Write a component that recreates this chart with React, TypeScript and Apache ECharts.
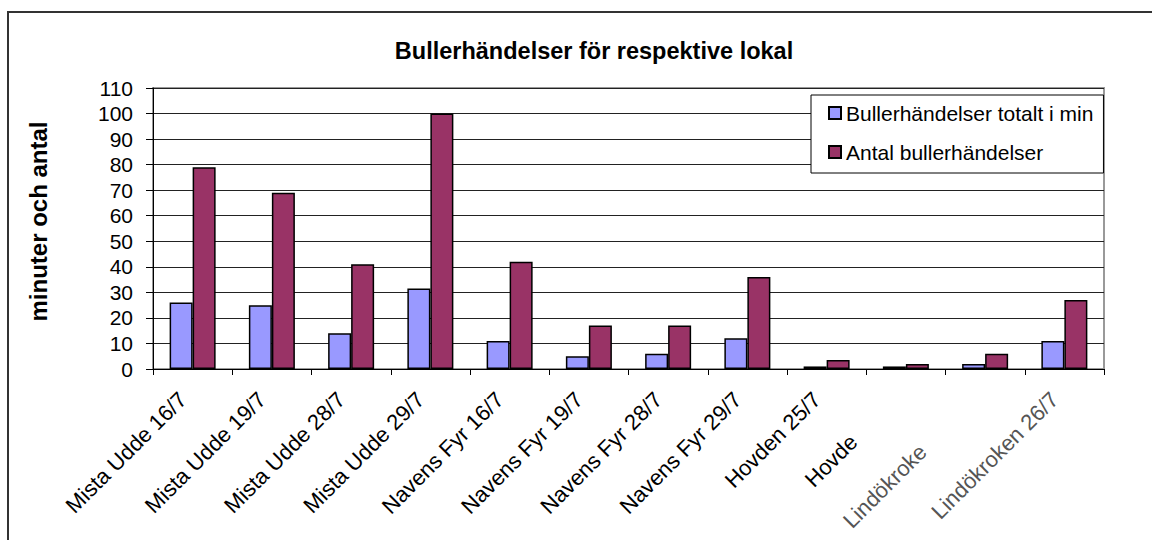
import React, { useEffect, useRef } from "react";
import * as echarts from "echarts";

const categories = [
  "Mista Udde 16/7",
  "Mista Udde 19/7",
  "Mista Udde 28/7",
  "Mista Udde 29/7",
  "Navens Fyr 16/7",
  "Navens Fyr 19/7",
  "Navens Fyr 28/7",
  "Navens Fyr 29/7",
  "Hovden 25/7",
  "Hovde",
  "Lindökroke",
  "Lindökroken 26/7",
];
const totaltMin = [26, 25, 14, 31.5, 11, 5, 6, 12, 1, 1, 2, 11];
const antal = [79, 69, 41, 100, 42, 17, 17, 36, 3.5, 2, 6, 27];
const seriesNames = ["Bullerhändelser totalt i min", "Antal bullerhändelser"];
const yTicks = { min: 0, max: 110, interval: 10 };

const FONT = "'Liberation Sans', Arial, sans-serif";

export default function App() {
  const ref = useRef<HTMLDivElement>(null);
  useEffect(() => {
    if (!ref.current) return;
    const chart = echarts.init(ref.current, undefined, { renderer: "svg" });
    const catData = categories.map((c, i) => {
      if (c === "Hovde") return { value: c, textStyle: { padding: [0, 74, 0, 0] } };
      if (c === "Lindökroke") return { value: c, textStyle: { padding: [0, 88, 0, 0], color: "#555" } };
      if (i === 11) return { value: c, textStyle: { color: "#555" } };
      return c;
    });
    chart.setOption({
      animation: false,
      backgroundColor: "#ffffff",
      title: {
        text: "Bullerhändelser för respektive lokal",
        left: 589,
        top: 34,
        textAlign: "center",
        textStyle: { fontFamily: FONT, fontSize: 23.5, fontWeight: "bold", color: "#000" },
      },
      legend: {
        orient: "vertical",
        left: 811,
        top: 95,
        width: 288,
        padding: [6, 10, 9, 17],
        itemWidth: 12,
        itemHeight: 12,
        itemGap: 15,
        icon: "rect",
        borderColor: "#000",
        borderWidth: 1,
        backgroundColor: "#fff",
        textStyle: { fontFamily: FONT, fontSize: 21, color: "#000", lineHeight: 24 },
        data: seriesNames,
      },
      graphic: [
        {
          type: "rect",
          shape: { x: 8, y: 12, width: 1300, height: 700 },
          style: { fill: "none", stroke: "#333", lineWidth: 2 },
          silent: true,
        },
      ],
      grid: {
        left: 153,
        right: 48,
        top: 88,
        bottom: 171,
        show: true,
        borderColor: "#999",
        borderWidth: 2,
        containLabel: false,
      },
      xAxis: {
        type: "category",
        data: catData,
        axisLine: { lineStyle: { color: "#000", width: 1 } },
        axisTick: { show: true, interval: 0, length: 6, lineStyle: { color: "#000" } },
        axisLabel: {
          interval: 0,
          rotate: 45,
          margin: 17,
          padding: [0, 14, 0, 0],
          fontFamily: FONT,
          fontSize: 22,
          color: "#000",
        },
      },
      yAxis: {
        type: "value",
        min: yTicks.min,
        max: yTicks.max,
        interval: yTicks.interval,
        name: "minuter och antal",
        nameLocation: "middle",
        nameRotate: 90,
        nameGap: 103,
        nameTextStyle: { fontFamily: FONT, fontSize: 24, fontWeight: "bold", color: "#000", padding: [0, 0, 0, 14] },
        axisLine: { show: true, lineStyle: { color: "#000", width: 1 } },
        axisTick: { show: true, length: 7, lineStyle: { color: "#000" } },
        axisLabel: { margin: 20, fontFamily: FONT, fontSize: 21, color: "#000" },
        splitLine: { show: true, lineStyle: { color: "#222", width: 1 } },
      },
      series: [
        {
          name: seriesNames[0],
          type: "bar",
          data: totaltMin,
          barWidth: 23,
          barGap: "0%",
          itemStyle: { color: "#9999FF", borderColor: "#000", borderWidth: 1.5 },
        },
        {
          name: seriesNames[1],
          type: "bar",
          data: antal,
          barWidth: 23,
          barGap: "0%",
          itemStyle: { color: "#993366", borderColor: "#000", borderWidth: 1.5 },
        },
      ],
    });
    return () => chart.dispose();
  }, []);
  return (
    <div
      ref={ref}
      style={{ position: "absolute", left: 0, top: 0, width: 1152, height: 540 }}
    />
  );
}
